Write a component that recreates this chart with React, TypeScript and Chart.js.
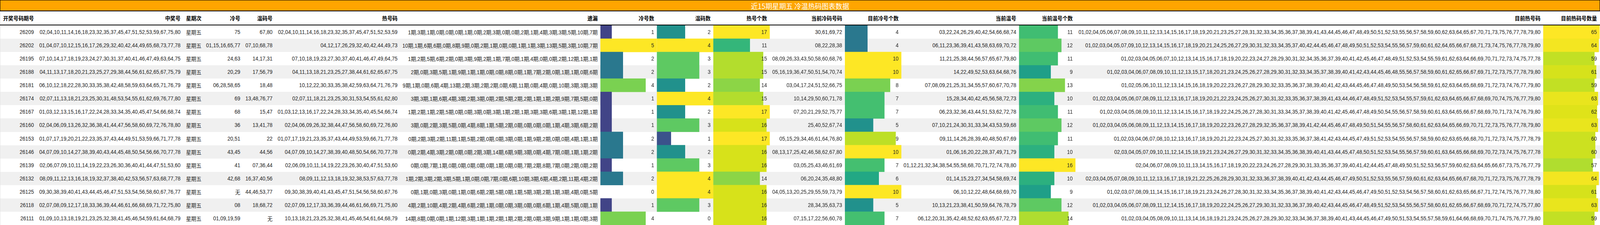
import React, { useEffect, useRef } from 'react';
import { Chart, registerables } from 'chart.js';
Chart.register(...registerables);

// ---------------- DATA ----------------
const title = '近15期星期五 冷温热码图表数据';

const headers = ['开奖号码期号', '中奖号', '星期次', '冷号', '温码号', '热号码', '遗漏', '冷号数', '温码数', '热号个数', '当前冷码号码', '目前冷号个数', '当前温号', '当前温号个数', '目前热号码', '目前热码号数量'];

const periods = ['26209', '26202', '26195', '26188', '26181', '26174', '26167', '26160', '26153', '26146', '26139', '26132', '26125', '26118', '26111'];

const winNums = [
  '02,04,10,11,14,16,18,23,32,35,37,45,47,51,52,53,59,67,75,80',
  '01,04,07,10,12,15,16,17,26,29,32,40,42,44,49,65,68,73,77,78',
  '07,10,14,17,18,19,23,24,27,30,31,37,40,41,46,47,49,63,64,75',
  '04,11,13,17,18,20,21,23,25,27,29,38,44,56,61,62,65,67,75,79',
  '06,10,12,18,22,28,30,33,35,38,42,48,58,59,63,64,65,71,76,79',
  '02,07,11,13,18,21,23,25,30,31,48,53,54,55,61,62,69,76,77,80',
  '01,03,12,13,15,16,17,22,24,28,33,34,35,40,45,47,54,66,68,74',
  '02,04,06,09,13,26,32,36,38,41,44,47,56,58,60,69,72,76,78,80',
  '01,07,17,19,20,21,22,23,35,37,43,44,49,51,53,59,66,71,77,78',
  '04,07,09,10,14,27,38,39,40,43,44,45,48,50,54,56,66,70,77,78',
  '02,06,07,09,10,11,14,19,22,23,26,30,36,40,41,44,47,51,53,60',
  '08,09,11,12,13,16,18,19,32,37,38,40,42,53,56,57,63,68,77,78',
  '09,30,38,39,40,41,43,44,45,46,47,51,53,54,56,58,60,67,76,77',
  '02,07,08,09,12,17,18,33,36,39,44,46,61,66,68,69,71,72,75,80',
  '01,09,10,13,18,19,21,23,25,32,38,41,45,46,54,59,61,64,68,79',
];

const weekdays = ['星期五', '星期五', '星期五', '星期五', '星期五', '星期五', '星期五', '星期五', '星期五', '星期五', '星期五', '星期五', '星期五', '星期五', '星期五'];

const coldNums = ['75', '01,15,16,65,77', '24,63', '20,29', '06,28,58,65', '69', '68', '36', '20,51', '43,45', '41', '42,68', '无', '08', '01,09,19,59'];

const warmNums = ['67,80', '07,10,68,78', '14,17,31', '17,56,79', '18,48', '13,48,76,77', '15,47', '13,41,78', '22', '44,56', '07,36,44', '16,37,40,56', '44,46,53,77', '18,68,72', '无'];

const hotNums = [
  '02,04,10,11,14,16,18,23,32,35,37,45,47,51,52,53,59',
  '04,12,17,26,29,32,40,42,44,49,73',
  '07,10,18,19,23,27,30,37,40,41,46,47,49,64,75',
  '04,11,13,18,21,23,25,27,38,44,61,62,65,67,75',
  '10,12,22,30,33,35,38,42,59,63,64,71,76,79',
  '02,07,11,18,21,23,25,30,31,53,54,55,61,62,80',
  '01,03,12,13,16,17,22,24,28,33,34,35,40,45,54,66,74',
  '02,04,06,09,26,32,38,44,47,56,58,60,69,72,76,80',
  '01,07,17,19,21,23,35,37,43,44,49,53,59,66,71,77,78',
  '04,07,09,10,14,27,38,39,40,48,50,54,66,70,77,78',
  '02,06,09,10,11,14,19,22,23,26,30,40,47,51,53,60',
  '08,09,11,12,13,18,19,32,38,53,57,63,77,78',
  '09,30,38,39,40,41,43,45,47,51,54,56,58,60,67,76',
  '02,07,09,12,17,33,36,39,44,46,61,66,69,71,75,80',
  '10,13,18,21,23,25,32,38,41,45,46,54,61,64,68,79',
];

const missing = [
  [1, 3, 1, 0, 0, 0, 1, 0, 2, 3, 0, 0, 2, 1, 4, 3, 3, 5, 10, 7],
  [10, 1, 6, 6, 0, 8, 9, 0, 2, 1, 0, 0, 1, 1, 3, 13, 5, 3, 10, 7],
  [1, 2, 5, 6, 2, 0, 3, 9, 2, 1, 7, 0, 1, 4, 0, 0, 2, 12, 1, 1],
  [2, 0, 3, 5, 1, 9, 1, 1, 0, 0, 8, 0, 1, 7, 2, 0, 1, 1, 0, 6],
  [9, 1, 0, 6, 4, 13, 2, 3, 2, 2, 0, 6, 11, 0, 4, 0, 10, 3, 3, 3],
  [3, 3, 1, 6, 4, 3, 2, 3, 0, 2, 5, 2, 2, 1, 1, 2, 9, 7, 5, 0],
  [1, 2, 1, 2, 5, 0, 0, 3, 0, 3, 1, 2, 1, 3, 3, 6, 3, 1, 12, 1],
  [3, 0, 2, 3, 5, 0, 4, 8, 1, 5, 2, 0, 0, 0, 0, 1, 4, 3, 6, 2],
  [0, 2, 3, 2, 11, 1, 5, 2, 0, 0, 3, 0, 1, 9, 2, 0, 0, 4, 1, 1],
  [0, 2, 4, 3, 2, 0, 0, 2, 3, 14, 6, 9, 3, 0, 4, 7, 0, 1, 1, 2],
  [0, 0, 7, 1, 0, 0, 0, 0, 0, 1, 0, 0, 7, 2, 8, 7, 0, 2, 0, 2],
  [1, 2, 3, 2, 3, 5, 1, 0, 0, 7, 0, 6, 10, 3, 6, 4, 2, 11, 4, 2],
  [0, 1, 0, 3, 0, 1, 0, 6, 2, 5, 0, 1, 5, 3, 2, 1, 3, 4, 0, 5],
  [4, 2, 10, 4, 2, 4, 6, 2, 1, 0, 0, 3, 0, 0, 6, 1, 4, 5, 0, 1],
  [14, 8, 0, 0, 1, 12, 3, 1, 1, 2, 1, 2, 2, 0, 3, 9, 1, 1, 0, 3],
];

const coldCount = [1, 5, 2, 2, 4, 1, 1, 1, 2, 2, 1, 2, 0, 1, 4];
const warmCount = [2, 4, 3, 3, 2, 4, 2, 3, 1, 2, 3, 4, 4, 3, 0];
const hotCount = [17, 11, 15, 15, 14, 15, 17, 16, 17, 16, 16, 14, 16, 16, 16];

const curCold = [
  '30,61,69,72', '08,22,28,38', '08,09,26,33,43,50,58,60,68,76', '05,16,19,36,47,50,51,54,70,74',
  '03,04,17,24,51,52,66,75', '10,14,29,50,60,71,78', '07,20,21,29,52,75,77', '25,40,52,67,74',
  '05,15,29,34,46,61,64,76,80', '08,13,17,25,42,46,58,62,67,80', '03,05,25,43,46,61,69', '06,20,24,35,48,80',
  '04,05,13,20,25,29,55,59,73,79', '28,34,35,63,73', '07,15,17,22,56,60,78',
];
const curColdCount = [4, 4, 10, 10, 8, 7, 7, 5, 9, 10, 7, 6, 10, 5, 7];

const curWarm = [
  '03,22,24,26,29,40,42,54,66,68,74',
  '06,11,23,36,39,41,43,58,63,69,70,72',
  '11,21,25,38,44,56,57,65,67,79,80',
  '14,22,49,52,53,63,64,68,76',
  '07,08,09,21,25,31,34,55,57,60,67,70,78',
  '15,28,34,40,42,45,56,58,72,73',
  '06,23,32,36,43,44,51,53,62,72,78',
  '07,10,21,24,30,31,33,34,43,53,59,68',
  '09,11,14,26,28,39,40,48,50,67,69',
  '01,06,16,20,22,28,37,49,71,79',
  '01,12,21,32,34,38,54,55,58,68,70,71,72,74,78,80',
  '01,14,15,23,27,34,54,58,69,74',
  '06,10,12,22,48,64,68,69,70',
  '10,13,21,23,38,41,50,59,64,76,78,79',
  '06,12,20,31,35,42,48,52,62,63,65,67,72,73',
];
const curWarmCount = [11, 12, 11, 9, 13, 10, 11, 12, 11, 10, 16, 10, 9, 12, 14];

const curHot = [
  '01,02,04,05,06,07,08,09,10,11,12,13,14,15,16,17,18,19,20,21,23,25,27,28,31,32,33,34,35,36,37,38,39,41,43,44,45,46,47,48,49,50,51,52,53,55,56,57,58,59,60,62,63,64,65,67,70,71,73,75,76,77,78,79,80',
  '01,02,03,04,05,07,09,10,12,13,14,15,16,17,18,19,20,21,24,25,26,27,29,30,31,32,33,34,35,37,40,42,44,45,46,47,48,49,50,51,52,53,54,55,56,57,59,60,61,62,64,65,66,67,68,71,73,74,75,76,77,78,79,80',
  '01,02,03,04,05,06,07,10,12,13,14,15,16,17,18,19,20,22,23,24,27,28,29,30,31,32,34,35,36,37,39,40,41,42,45,46,47,48,49,51,52,53,54,55,59,61,62,63,64,66,69,70,71,72,73,74,75,77,78',
  '01,02,03,04,06,07,08,09,10,11,12,13,15,17,18,20,21,23,24,25,26,27,28,29,30,31,32,33,34,35,37,38,39,40,41,42,43,44,45,46,48,55,56,57,58,59,60,61,62,65,66,67,69,71,72,73,75,77,78,79,80',
  '01,02,05,06,10,11,12,13,14,15,16,18,19,20,22,23,26,27,28,29,30,32,33,35,36,37,38,39,40,41,42,43,44,45,46,47,48,49,50,53,54,56,58,59,61,62,63,64,65,68,69,71,72,73,74,76,77,79,80',
  '01,02,03,04,05,06,07,08,09,11,12,13,16,17,18,19,20,21,22,23,24,25,26,27,30,31,32,33,35,36,37,38,39,41,43,44,46,47,48,49,51,52,53,54,55,57,59,61,62,63,64,65,66,67,68,69,70,74,75,76,77,79,80',
  '01,02,03,04,05,08,09,10,11,12,13,14,15,16,17,18,19,22,24,25,26,27,28,30,31,33,34,35,37,38,39,40,41,42,45,46,47,48,49,50,54,55,56,57,58,59,60,61,63,64,65,66,67,68,69,70,71,73,74,76,79,80',
  '01,02,03,04,05,06,08,09,11,12,13,14,15,16,17,18,19,20,22,23,26,27,28,29,32,35,36,37,38,39,41,42,44,45,46,47,48,49,50,51,54,55,56,57,58,60,61,62,63,64,65,66,69,70,71,72,73,75,76,77,78,79,80',
  '01,02,03,04,06,07,08,10,12,13,16,17,18,19,20,21,22,23,24,25,27,30,31,32,33,35,36,37,38,41,42,43,44,45,47,49,51,52,53,54,55,56,57,58,59,60,62,63,65,66,68,70,71,72,73,74,75,77,78,79',
  '02,03,04,05,07,09,10,11,12,14,15,18,19,21,23,24,26,27,29,30,31,32,33,34,35,36,38,39,40,41,43,44,45,47,48,50,51,52,53,54,55,56,57,59,60,61,63,64,65,66,68,69,70,72,73,74,75,76,77,78',
  '02,04,06,07,08,09,10,11,13,14,15,16,17,18,19,20,22,23,24,26,27,28,29,30,31,33,35,36,37,39,40,41,42,44,45,47,48,49,50,51,52,53,56,57,59,60,62,63,64,65,66,67,73,75,76,77,79',
  '02,03,04,05,07,08,09,10,11,12,13,16,17,18,19,21,22,25,26,28,29,30,31,32,33,36,37,38,39,40,41,42,43,44,45,46,47,49,50,51,52,53,55,56,57,59,60,61,62,63,64,65,66,67,68,70,71,72,73,75,76,77,78,79',
  '01,02,03,07,08,09,11,14,15,16,17,18,19,21,23,24,26,27,28,30,31,32,33,34,35,36,37,38,39,40,41,42,43,44,45,46,47,49,50,51,52,53,54,56,57,58,60,61,62,63,65,66,67,71,72,74,75,76,77,78,80',
  '01,02,03,04,05,06,07,08,09,11,12,14,15,16,17,18,19,20,22,24,25,26,27,29,30,31,32,33,36,37,39,40,42,43,44,45,46,47,48,49,51,52,53,54,55,56,57,58,60,61,62,65,66,67,68,69,70,71,72,74,75,77,80',
  '01,02,03,04,05,08,09,10,11,13,14,16,18,19,21,23,24,25,26,27,28,29,30,32,33,34,36,37,38,39,40,41,43,44,45,46,47,49,50,51,53,54,55,57,58,59,61,64,66,68,69,70,71,74,75,76,77,79,80',
];
const curHotCount = [65, 64, 59, 61, 59, 63, 62, 63, 60, 60, 57, 64, 61, 63, 59];

// ---------------- LAYOUT / STYLE ----------------
const W = 4365;
const H = 576;
const TITLE_H = 28;
const HEAD_LINE = 63;
const BODY_TOP = 65;
const ROW_H = (H - BODY_TOP) / periods.length;
const PAD = 7.5;
const FONT = '"Liberation Sans", Arial, "Noto Sans CJK SC", sans-serif';
const TEXT_COLOR = '#222';
const STRIPE = '#f0f0f0';

// column pixel edges (layout)
const EDGES = [0, 100, 500, 557, 663, 751, 1092, 1638, 1792, 1946, 2100, 2305, 2459, 2780, 2934, 4210, 4364];

const VIRIDIS = ['#440154', '#471365', '#482475', '#463480', '#414487', '#3b528b', '#355f8d', '#2f6c8e', '#2a788e', '#25848e', '#21918c', '#1e9c89', '#22a884', '#35b779', '#44bf70', '#5ec962', '#7ad151', '#a0da39', '#bddf26', '#dde318', '#fde725'];

function hexToRgb(h: string) {
  return [parseInt(h.slice(1, 3), 16), parseInt(h.slice(3, 5), 16), parseInt(h.slice(5, 7), 16)];
}
function viridis(t: number) {
  const c = Math.max(0, Math.min(1, t)) * (VIRIDIS.length - 1);
  const i = Math.min(VIRIDIS.length - 2, Math.floor(c));
  const f = c - i;
  const a = hexToRgb(VIRIDIS[i]);
  const b = hexToRgb(VIRIDIS[i + 1]);
  const m = a.map((v, k) => Math.round(v + (b[k] - v) * f));
  return `rgb(${m[0]},${m[1]},${m[2]})`;
}

function BarColumn({ x0, x1, values }: { x0: number; x1: number; values: number[] }) {
  const ref = useRef<HTMLCanvasElement | null>(null);
  useEffect(() => {
    const max = Math.max(...values);
    const chart = new Chart(ref.current as HTMLCanvasElement, {
      type: 'bar',
      data: {
        labels: periods,
        datasets: [
          {
            data: values,
            backgroundColor: values.map((v) => (v > 0 ? viridis(max ? v / max : 0) : 'rgba(0,0,0,0)')),
            borderWidth: 0,
            barPercentage: 1,
            categoryPercentage: 1,
          },
        ],
      },
      options: {
        indexAxis: 'y',
        responsive: false,
        maintainAspectRatio: false,
        animation: false,
        events: [],
        devicePixelRatio: 2,
        layout: { padding: 0 },
        plugins: { legend: { display: false }, tooltip: { enabled: false }, title: { display: false } },
        scales: {
          x: { display: false, min: 0, max: max },
          y: { display: false },
        },
      },
    } as any);
    return () => chart.destroy();
  }, []);
  const w = x1 - x0;
  const h = H - BODY_TOP;
  return (
    <canvas
      ref={ref}
      width={w}
      height={h}
      style={{ position: 'absolute', left: x0, top: BODY_TOP, width: w, height: h, zIndex: 1 }}
    />
  );
}

function Cell({ x0, x1, top, height, text, bold }: { x0: number; x1: number; top: number; height: number; text: string; bold?: boolean }) {
  return (
    <div
      style={{
        position: 'absolute',
        left: x0,
        top,
        width: x1 - x0,
        height,
        display: 'flex',
        alignItems: 'center',
        justifyContent: 'flex-end',
        paddingRight: PAD,
        boxSizing: 'border-box',
        whiteSpace: 'nowrap',
        fontSize: 14,
        fontWeight: bold ? 700 : 400,
        color: bold ? '#000' : TEXT_COLOR,
        zIndex: 2,
      }}
    >
      {text}
    </div>
  );
}

export default function App() {
  const vw = typeof window !== 'undefined' && window.innerWidth ? window.innerWidth : W;
  const sx = Math.min(1, vw / W);
  const fmtMissing = (arr: number[]) => arr.map((v) => v + '期').join(',');
  const columns: string[][] = [
    periods,
    winNums,
    weekdays,
    coldNums,
    warmNums,
    hotNums,
    missing.map(fmtMissing),
    coldCount.map(String),
    warmCount.map(String),
    hotCount.map(String),
    curCold,
    curColdCount.map(String),
    curWarm,
    curWarmCount.map(String),
    curHot,
    curHotCount.map(String),
  ];
  const barCols: { idx: number; values: number[] }[] = [
    { idx: 7, values: coldCount },
    { idx: 8, values: warmCount },
    { idx: 9, values: hotCount },
    { idx: 11, values: curColdCount },
    { idx: 13, values: curWarmCount },
    { idx: 15, values: curHotCount },
  ];

  return (
    <div style={{ position: 'relative', width: Math.round(W * sx), height: H, overflow: 'hidden', background: '#fff' }}>
      <style>{'html,body{margin:0;padding:0;background:#fff;overflow:hidden;}'}</style>
      <div
        style={{
          position: 'absolute',
          left: 0,
          top: 0,
          width: W,
          height: H,
          overflow: 'hidden',
          background: '#fff',
          fontFamily: FONT,
          transform: `scaleX(${sx})`,
          transformOrigin: '0 0',
        }}
      >
        {/* stripes */}
        {periods.map((p, r) =>
          r % 2 === 1 ? (
            <div
              key={'s' + p}
              style={{ position: 'absolute', left: 0, top: BODY_TOP + r * ROW_H, width: W, height: ROW_H, background: STRIPE }}
            />
          ) : null
        )}
        {/* left border of table body */}
        <div style={{ position: 'absolute', left: 0, top: TITLE_H, width: 1, height: H - TITLE_H, background: '#e4e4e4', zIndex: 3 }} />
        {/* title */}
        <div
          style={{
            position: 'absolute',
            left: 0,
            top: 0,
            width: W,
            height: TITLE_H + 1,
            background: '#FFA500',
            border: '1px solid #000',
            borderBottomWidth: 2,
            boxSizing: 'border-box',
            color: '#fff',
            fontSize: 18.7,
            display: 'flex',
            alignItems: 'center',
            justifyContent: 'center',
            fontFamily: '"Noto Sans CJK SC", "Liberation Sans", sans-serif',
            whiteSpace: 'nowrap',
            zIndex: 3,
          }}
        >
          {title}
        </div>
        {/* header */}
        {headers.map((h, c) => (
          <Cell key={'h' + c} x0={EDGES[c]} x1={EDGES[c + 1]} top={TITLE_H} height={HEAD_LINE - TITLE_H} text={h} bold />
        ))}
        <div style={{ position: 'absolute', left: 0, top: HEAD_LINE, width: W, height: 2, background: '#000', zIndex: 3 }} />
        {/* bars via Chart.js */}
        {barCols.map((b) => (
          <BarColumn key={'b' + b.idx} x0={EDGES[b.idx]} x1={EDGES[b.idx + 1]} values={b.values} />
        ))}
        {/* body text */}
        {columns.map((col, c) =>
          col.map((t, r) => (
            <Cell key={'c' + c + '_' + r} x0={EDGES[c]} x1={EDGES[c + 1]} top={BODY_TOP + r * ROW_H} height={ROW_H} text={t} />
          ))
        )}
      </div>
    </div>
  );
}
